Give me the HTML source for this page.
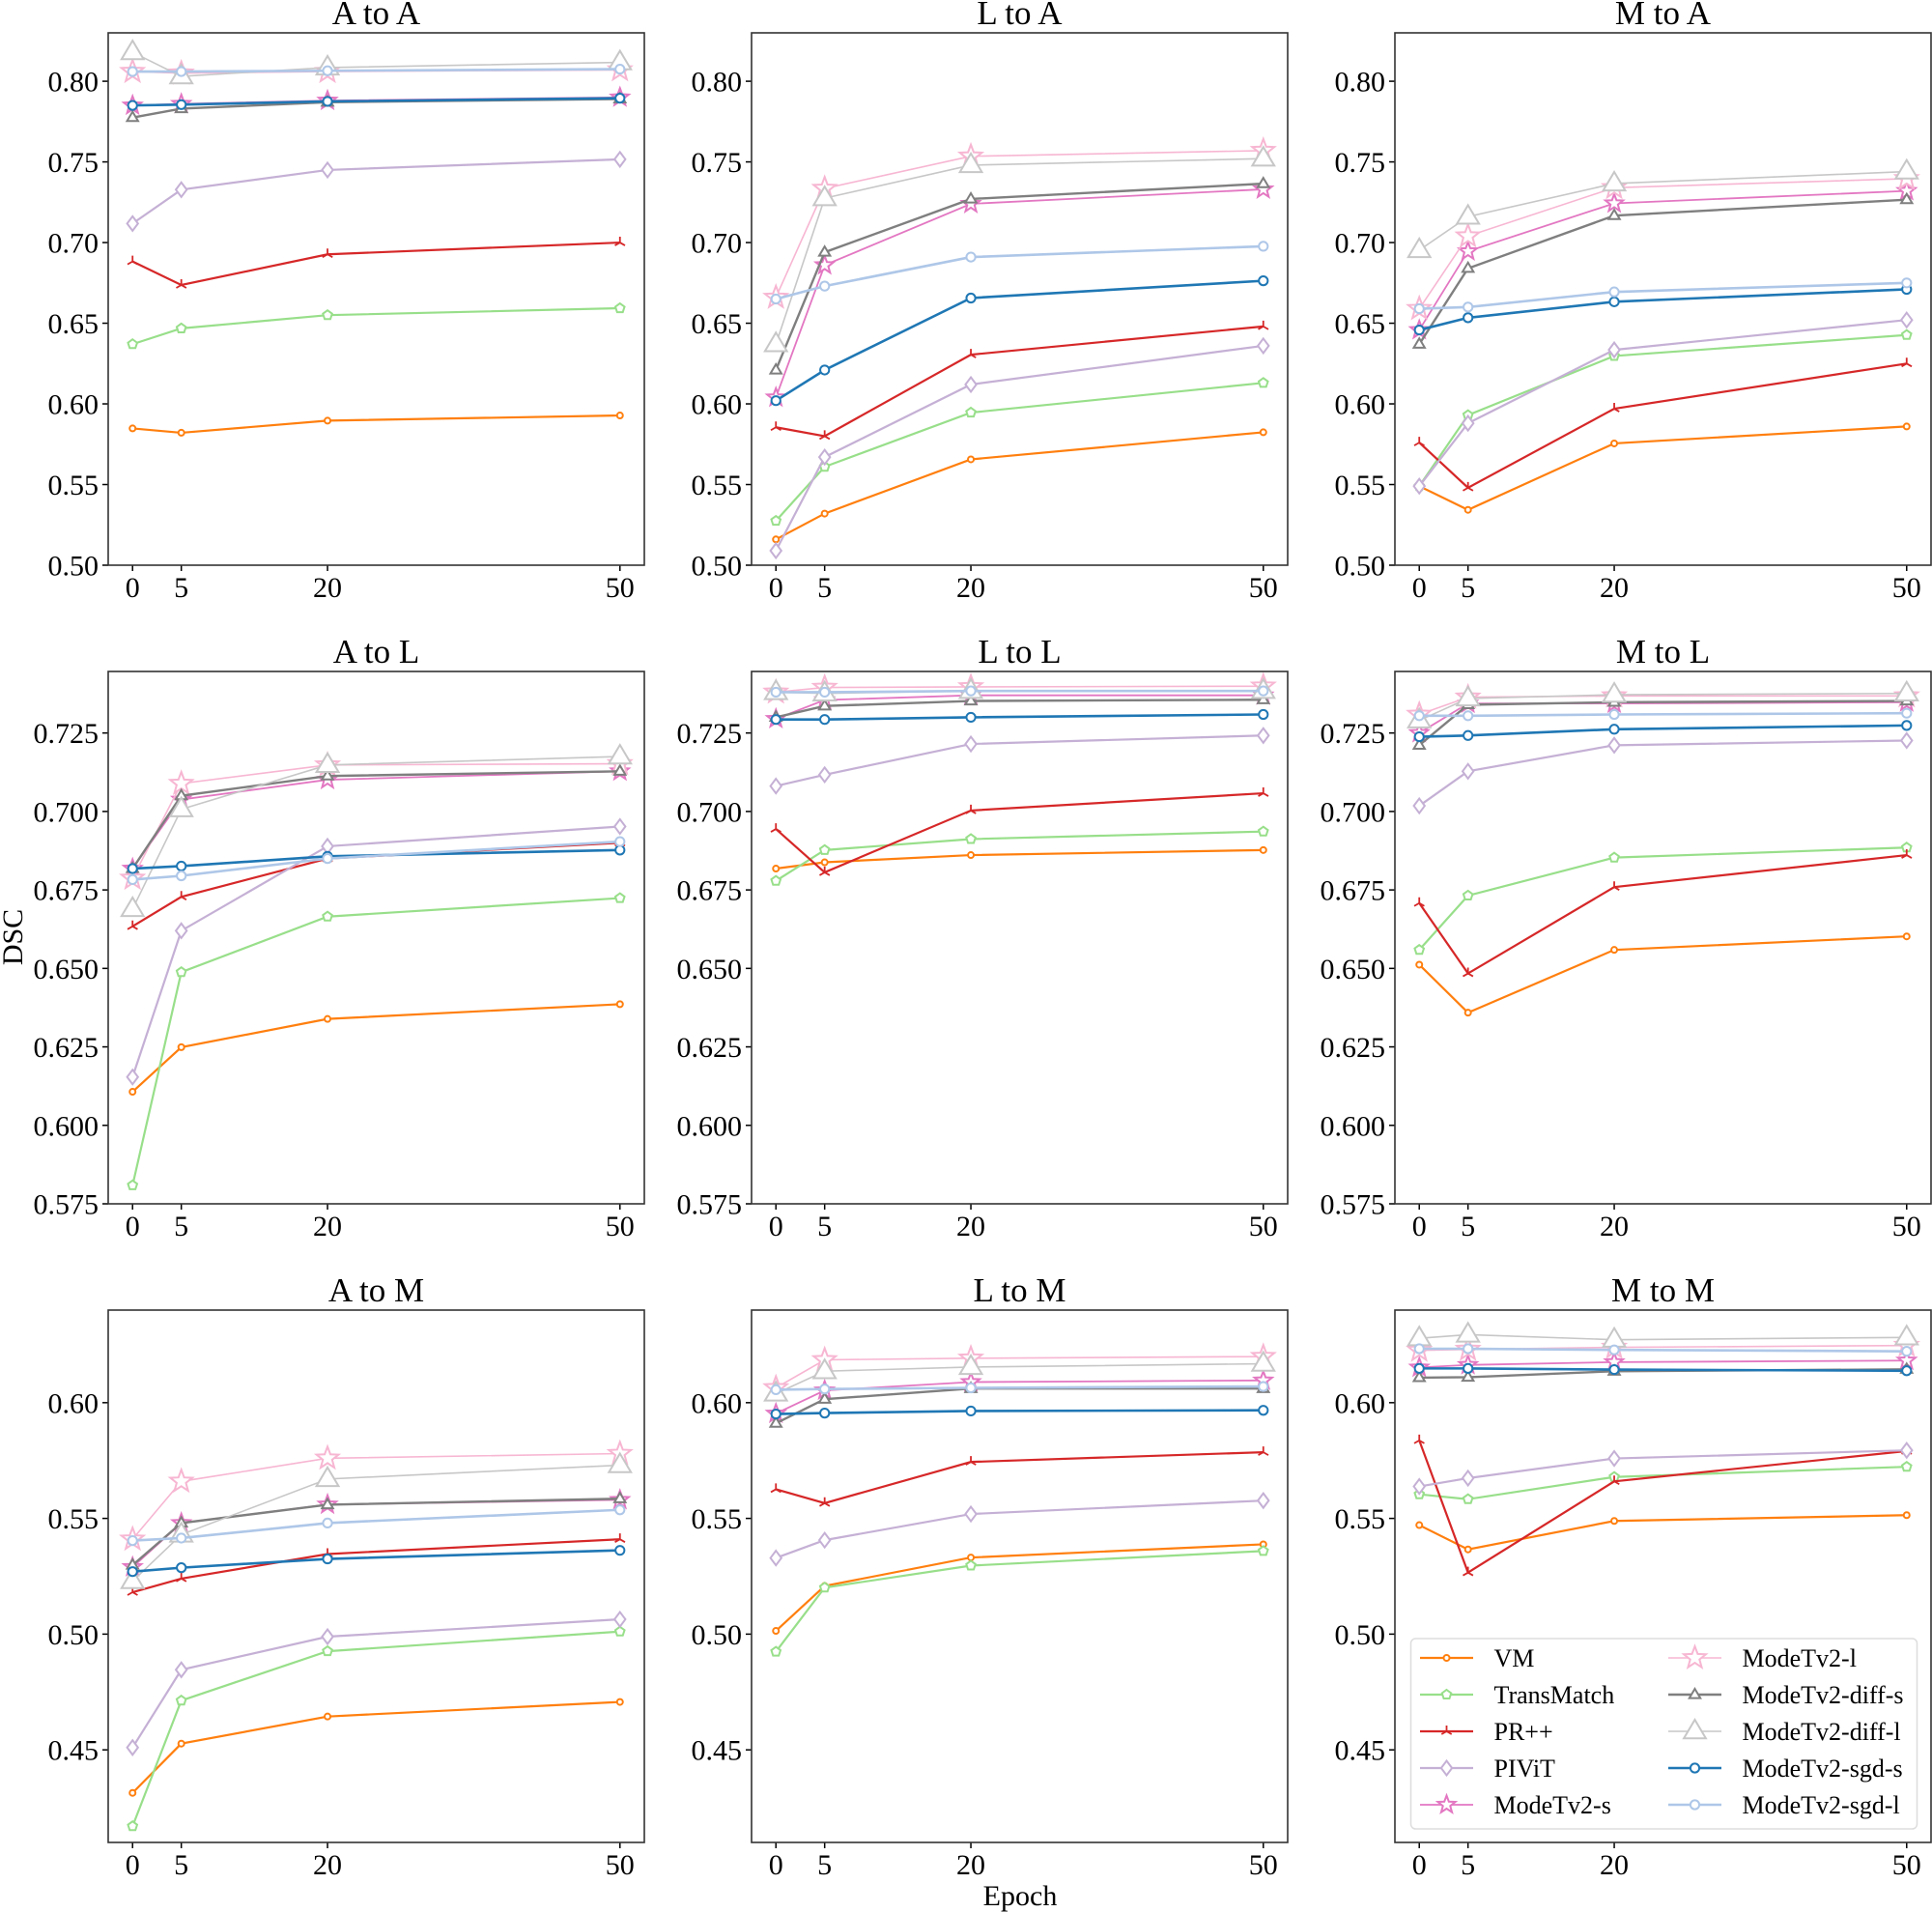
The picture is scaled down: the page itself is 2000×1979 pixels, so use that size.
<!DOCTYPE html>
<html><head><meta charset="utf-8">
<style>
html,body{margin:0;padding:0;background:#fff;}
svg{display:block;font-family:"Liberation Serif","DejaVu Serif",serif;}
</style></head>
<body>
<svg id="chart" width="2000" height="1979" viewBox="0 0 2000 1979" xmlns="http://www.w3.org/2000/svg">
<text x="0" y="0" transform="translate(23,970) rotate(-90)" text-anchor="middle" font-size="30">DSC</text>
<text x="1056" y="1972" text-anchor="middle" font-size="30">Epoch</text>
</svg>
<script>
// Data
const epochs = [0, 5, 20, 50];
const panelTitles = ["A to A","L to A","M to A","A to L","L to L","M to L","A to M","L to M","M to M"];
const seriesNames = ["VM","TransMatch","PR++","PIViT","ModeTv2-s","ModeTv2-l","ModeTv2-diff-s","ModeTv2-diff-l","ModeTv2-sgd-s","ModeTv2-sgd-l"];
const row1Ticks = ["0.50","0.55","0.60","0.65","0.70","0.75","0.80"];
const row2Ticks = ["0.575","0.600","0.625","0.650","0.675","0.700","0.725"];
const row3Ticks = ["0.45","0.50","0.55","0.60"];
const xTickLabels = ["0","5","20","50"];
// each array: 9 panels (AA, LA, MA, AL, LL, ML, AM, LM, MM) x 4 epochs
const vmVals = [[0.5848,0.5821,0.5896,0.5928],[0.516,0.532,0.5656,0.5824],[0.549,0.5343,0.5755,0.586],
 [0.6107,0.6249,0.6339,0.6386],[0.6818,0.6838,0.6861,0.6877],[0.6512,0.6359,0.6559,0.6602],
 [0.4314,0.4527,0.4644,0.4707],[0.5014,0.5208,0.5331,0.5388],[0.5471,0.5366,0.5489,0.5514]];
const transMatchVals = [[0.637,0.6468,0.655,0.6593],[0.5275,0.561,0.5946,0.613],[0.549,0.593,0.6297,0.6427],
 [0.5809,0.6488,0.6665,0.6724],[0.6779,0.6877,0.6912,0.6936],[0.6559,0.6732,0.6853,0.6885],
 [0.417,0.4713,0.4926,0.5011],[0.4924,0.5201,0.5296,0.5359],[0.5604,0.5583,0.5679,0.5723]];
const prVals = [[0.6883,0.6737,0.6927,0.700],[0.5855,0.580,0.6305,0.648],[0.576,0.548,0.597,0.625],
 [0.6634,0.6728,0.685,0.690],[0.6944,0.6806,0.7003,0.7058],[0.6708,0.6484,0.6759,0.6861],
 [0.5181,0.524,0.5346,0.541],[0.5626,0.5566,0.5744,0.5786],[0.5837,0.5266,0.566,0.5791]];
const pivitVals = [[0.7118,0.7328,0.745,0.7516],[0.509,0.567,0.612,0.636],[0.549,0.588,0.6335,0.652],
 [0.6154,0.662,0.6889,0.6952],[0.7081,0.7117,0.7215,0.7242],[0.7018,0.7128,0.7211,0.7226],
 [0.451,0.4846,0.4989,0.5064],[0.5329,0.5406,0.5519,0.5577],[0.5638,0.5674,0.5759,0.5794]];
const modeSVals = [[0.785,0.786,0.788,0.790],[0.604,0.686,0.724,0.733],[0.6458,0.6946,0.7243,0.732],
 [0.6818,0.7038,0.7101,0.7128],[0.7295,0.7355,0.737,0.737],[0.725,0.7344,0.7344,0.7348],
 [0.529,0.548,0.556,0.558],[0.5953,0.6053,0.6089,0.6096],[0.6152,0.6163,0.6175,0.6182]];
const modeLVals = [[0.806,0.805,0.806,0.807],[0.666,0.7335,0.7535,0.757],[0.659,0.704,0.734,0.7396],
 [0.6787,0.7089,0.7148,0.7152],[0.738,0.7395,0.7397,0.7399],[0.7309,0.7364,0.7368,0.7368],
 [0.541,0.566,0.576,0.578],[0.6064,0.6185,0.6192,0.6199],[0.6226,0.623,0.6239,0.6247]];
const diffSVals = [[0.7775,0.783,0.787,0.789],[0.621,0.694,0.727,0.7365],[0.637,0.684,0.7167,0.7266],
 [0.6818,0.705,0.7113,0.7128],[0.730,0.7336,0.7352,0.7356],[0.7211,0.734,0.7348,0.7352],
 [0.5298,0.548,0.5559,0.5585],[0.5911,0.6015,0.6061,0.6061],[0.6108,0.611,0.6136,0.6144]];
const diffLVals = [[0.818,0.803,0.8085,0.8117],[0.637,0.7275,0.748,0.752],[0.6953,0.716,0.7366,0.744],
 [0.6689,0.7007,0.7148,0.7175],[0.738,0.7376,0.7384,0.7384],[0.729,0.736,0.7372,0.7376],
 [0.5229,0.543,0.567,0.573],[0.6039,0.6136,0.6154,0.6168],[0.6278,0.6294,0.6272,0.6282]];
const sgdSVals = [[0.785,0.7855,0.7875,0.7895],[0.602,0.621,0.6656,0.6763],[0.6458,0.6534,0.6633,0.671],
 [0.6818,0.6826,0.6857,0.6877],[0.7293,0.7293,0.730,0.7309],[0.7238,0.7242,0.7262,0.7274],
 [0.527,0.5287,0.5325,0.5362],[0.5951,0.5955,0.5964,0.5967],[0.6148,0.6148,0.6143,0.6138]];
const sgdLVals = [[0.806,0.806,0.8065,0.8075],[0.665,0.673,0.691,0.6977],[0.659,0.660,0.6694,0.675],
 [0.6783,0.6795,0.685,0.6904],[0.738,0.738,0.7384,0.7384],[0.7305,0.7305,0.7309,0.7313],
 [0.5404,0.5415,0.548,0.5537],[0.6056,0.6059,0.6064,0.607],[0.6233,0.6233,0.6228,0.6222]];

const allVals = [vmVals,transMatchVals,prVals,pivitVals,modeSVals,modeLVals,diffSVals,diffLVals,sgdSVals,sgdLVals];
const colors = ["#ff7f0e","#98df8a","#d62728","#c5b0d5","#e377c2","#f7b6d2","#7f7f7f","#c7c7c7","#1f77b4","#aec7e8"];
const markers = ["circle","pentagon","tri","diamond","star","star","triangle","triangle","circle","circle"];
const msizes = [3,5,6,7.5,9.5,12,6,12,4.6,4.6];
const lwidths = [2.2,2.2,2.2,2.2,1.8,1.6,2.4,1.6,2.6,2.6];

const NS = "http://www.w3.org/2000/svg";
const svg = document.getElementById('chart');
function mk(tag, attrs, parent){ const e=document.createElementNS(NS,tag); for(const k in attrs) e.setAttribute(k,attrs[k]); (parent||svg).appendChild(e); return e; }

const colLeft=[112,778,1444], rowTop=[34,695,1356], PW=555, PH=551;
const rowDomains=[[0.50,0.83],[0.575,0.7446],[0.41,0.64]];
const rowTicks=[row1Ticks,row2Ticks,row3Ticks];

function markerPath(type, r){
  let pts=[];
  if(type==="pentagon"){ for(let i=0;i<5;i++){const a=-Math.PI/2+i*2*Math.PI/5; pts.push([r*Math.cos(a),r*Math.sin(a)]);} }
  else if(type==="diamond"){ pts=[[0,-r],[r*0.75,0],[0,r],[-r*0.75,0]]; }
  else if(type==="triangle"){ pts=[[0,-r],[r*0.95,r*0.6],[-r*0.95,r*0.6]]; }
  else if(type==="star"){ for(let i=0;i<10;i++){const a=-Math.PI/2+i*Math.PI/5; const rr=i%2?r*0.42:r; pts.push([rr*Math.cos(a),rr*Math.sin(a)]);} }
  return "M"+pts.map(p=>p[0].toFixed(2)+","+p[1].toFixed(2)).join("L")+"Z";
}
function drawMarker(g, type, cx, cy, r, color){
  let m;
  if(type==="circle"){ m=mk('circle',{cx:cx,cy:cy,r:r,fill:'#fff',stroke:color,'stroke-width':2},g); }
  else if(type==="tri"){ m=mk('path',{d:`M${cx},${cy}L${cx},${cy-r}M${cx},${cy}L${cx-r*0.87},${cy+r*0.5}M${cx},${cy}L${cx+r*0.87},${cy+r*0.5}`,fill:'none',stroke:color,'stroke-width':1.8},g); }
  else { m=mk('path',{d:markerPath(type,r),transform:`translate(${cx},${cy})`,fill:'#fff',stroke:color,'stroke-width':2,'stroke-linejoin':'miter'},g); }
  return m;
}

for(let p=0;p<9;p++){
  const col=p%3, row=Math.floor(p/3);
  const L=colLeft[col], T=rowTop[row];
  const [d0,d1]=rowDomains[row];
  const xs=e=>L+(e+2.5)/55*PW;
  const ys=v=>T+PH-(v-d0)/(d1-d0)*PH;
  const g=mk('g',{});
  
  
  const t=mk('text',{x:L+PW/2,y:T-9,'text-anchor':'middle','font-size':35},g);
  t.textContent=panelTitles[p];
  
  
  rowTicks[row].forEach(lbl=>{
    const y=ys(parseFloat(lbl));
    const tk=mk('line',{x1:L-6,x2:L,y1:y,y2:y,stroke:'#000','stroke-width':1.5},g);
    
    
    const tl=mk('text',{x:L-10,y:y+10.5,'text-anchor':'end','font-size':30},g);
    tl.textContent=lbl;
    
    
  });
  epochs.forEach((e,i)=>{
    const x=xs(e);
    const tk=mk('line',{x1:x,x2:x,y1:T+PH,y2:T+PH+6,stroke:'#000','stroke-width':1.5},g);
    
    
    const tl=mk('text',{x:x,y:T+PH+33,'text-anchor':'middle','font-size':30},g);
    tl.textContent=xTickLabels[i];
    
    
  });
  for(let s=0;s<10;s++){
    const vals=allVals[s][p];
    const sg=mk('g',{},g);
    
    
    const pl=mk('polyline',{points:vals.map((v,i)=>xs(epochs[i])+","+ys(v)).join(" "),fill:'none',stroke:colors[s],'stroke-width':lwidths[s]},sg);
    
    
    vals.forEach((v,i)=>{
      const m=drawMarker(sg,markers[s],xs(epochs[i]),ys(v),msizes[s],colors[s]);
      
      
    });
  }
  const fr=mk('rect',{x:L,y:T,width:PW,height:PH,fill:'none',stroke:'#333','stroke-width':1.6},g);
  
  
}

const lg=mk('g',{});


const lb=mk('rect',{x:1460.5,y:1696,width:524,height:197,rx:5,fill:'#fff','fill-opacity':0.85,stroke:'#ddd','stroke-width':1.5},lg);


const legRowsY=[1716,1754,1792,1830,1868];
for(let s=0;s<10;s++){
  const c=Math.floor(s/5), r=s%5;
  const x0=c?1727:1470, y=legRowsY[r];
  const eg=mk('g',{},lg);
  
  
  mk('line',{x1:x0,x2:x0+55,y1:y,y2:y,stroke:colors[s],'stroke-width':lwidths[s]},eg);
  drawMarker(eg,markers[s],x0+27.5,y,msizes[s],colors[s]);
  const tx=mk('text',{x:x0+76.5,y:y+9,'font-size':26},eg);
  tx.textContent=seriesNames[s];
}
</script>
</body></html>
